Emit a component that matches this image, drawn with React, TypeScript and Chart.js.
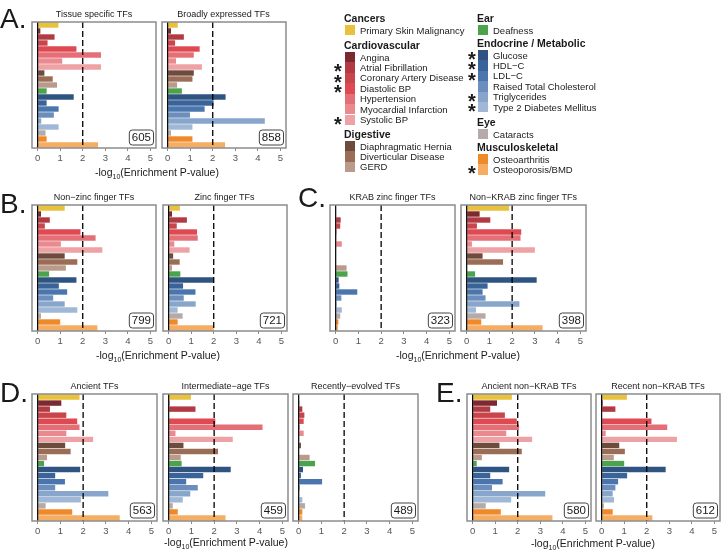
import React, { useEffect, useRef } from "react";
import { Chart, registerables } from "chart.js";

Chart.register(...registerables);

// ---------- DATA ----------
const traits = [
  "Primary Skin Malignancy",
  "Angina",
  "Atrial Fibrillation",
  "Coronary Artery Disease",
  "Diastolic BP",
  "Hypertension",
  "Myocardial Infarction",
  "Systolic BP",
  "Diaphragmatic Hernia",
  "Diverticular Disease",
  "GERD",
  "Deafness",
  "Glucose",
  "HDL\u2212C",
  "LDL\u2212C",
  "Raised Total Cholesterol",
  "Triglycerides",
  "Type 2 Diabetes Mellitus",
  "Cataracts",
  "Osteoarthritis",
  "Osteoporosis/BMD",
];

const starredTraits = [
  "Atrial Fibrillation",
  "Coronary Artery Disease",
  "Diastolic BP",
  "Systolic BP",
  "Glucose",
  "HDL\u2212C",
  "LDL\u2212C",
  "Triglycerides",
  "Type 2 Diabetes Mellitus",
  "Osteoporosis/BMD",
];

const traitGroups = ["Cancers", "Cardiovascular", "Digestive", "Ear", "Endocrine / Metabolic", "Eye", "Musculoskeletal"];
const groupMembers = [[0], [1, 2, 3, 4, 5, 6, 7], [8, 9, 10], [11], [12, 13, 14, 15, 16, 17], [18], [19, 20]];

const tissueSpecific = [0.92, 0.12, 0.75, 0.44, 1.72, 2.81, 1.09, 2.81, 0.3, 0.67, 0.86, 0.4, 1.6, 0.4, 0.93, 0.72, 0.16, 0.93, 0.35, 0.4, 2.68];
const broadlyExpressed = [0.45, 0.15, 0.72, 0.33, 1.42, 1.16, 0.37, 1.52, 1.16, 1.1, 0.42, 0.63, 2.57, 2.04, 1.64, 0.99, 4.31, 1.1, 0.15, 1.1, 2.55];
const nonZincFinger = [1.2, 0.15, 0.54, 0.32, 1.9, 2.57, 1.03, 2.87, 1.2, 1.76, 1.25, 0.51, 1.72, 0.94, 1.31, 0.69, 1.2, 1.76, 0.15, 1.0, 2.65];
const zincFinger = [0.5, 0.15, 0.81, 0.36, 1.26, 1.29, 0.25, 0.93, 0.2, 0.49, 0.15, 0.52, 2.0, 0.64, 1.19, 0.67, 1.2, 0.4, 0.62, 0.4, 2.0];
const krabZincFinger = [0.0, 0.0, 0.22, 0.2, 0.04, 0.03, 0.27, 0.02, 0.0, 0.0, 0.48, 0.52, 0.13, 0.16, 0.95, 0.25, 0.04, 0.27, 0.2, 0.12, 0.1];
const nonKrabZincFinger = [1.87, 0.57, 1.04, 0.45, 2.4, 2.37, 0.23, 3.0, 0.7, 1.6, 0.02, 0.37, 3.08, 0.92, 0.7, 0.83, 2.32, 0.41, 0.83, 0.64, 3.34];
const ancientTFs = [1.84, 1.04, 0.54, 1.26, 1.74, 1.84, 1.26, 2.44, 1.21, 1.45, 0.41, 0.28, 1.87, 0.77, 1.2, 0.77, 3.11, 1.9, 0.35, 1.52, 3.61];
const intermediateTFs = [0.98, 0.04, 1.18, 0.0, 2.05, 4.13, 0.3, 2.82, 0.65, 2.17, 0.53, 0.57, 2.73, 1.52, 0.77, 1.28, 0.95, 0.62, 0.18, 0.4, 2.5];
const recentTFs = [0.02, 0.03, 0.16, 0.25, 0.22, 0.05, 0.22, 0.03, 0.1, 0.0, 0.48, 0.72, 0.19, 0.1, 1.03, 0.05, 0.03, 0.16, 0.28, 0.16, 0.16];
const ancientNonKrab = [1.74, 1.08, 0.78, 1.43, 1.96, 2.06, 1.49, 2.64, 1.19, 2.18, 0.41, 0.18, 1.62, 0.78, 1.33, 0.86, 3.22, 1.71, 0.58, 1.25, 3.54];
const recentNonKrab = [1.12, 0.05, 0.61, 0.0, 2.21, 2.91, 0.18, 3.34, 0.78, 1.03, 0.54, 1.0, 2.84, 1.13, 0.73, 0.61, 0.49, 0.55, 0.1, 0.49, 2.25];

const tfCounts = [605, 858, 799, 721, 323, 398, 563, 459, 489, 580, 612];
const xTickValues = [0, 1, 2, 3, 4, 5];
const thresholdValue = 2;

// ---------- STYLES ----------
const traitColors = [
  "#e8c23c",
  "#7c2a30", "#b23a42", "#c8454c", "#df4a52", "#e56f76", "#ea898e", "#eea2a5",
  "#6d4b3d", "#9b6d57", "#b99a8b",
  "#4ba34b",
  "#2f5481", "#3a6499", "#4a76ad", "#6c8ebc", "#88a6cb", "#a0b8d6",
  "#b4aaa7",
  "#f0892a", "#f4ad63",
];

const FONT = "'Liberation Sans', Arial, Helvetica, sans-serif";
const TEXT = "#1a1a1a";

const panels = [
  { title: "Tissue specific TFs", values: tissueSpecific, count: tfCounts[0], box: [32, 22, 156, 148] },
  { title: "Broadly expressed TFs", values: broadlyExpressed, count: tfCounts[1], box: [161.5, 22, 285.5, 148] },
  { title: "Non\u2212zinc finger TFs", values: nonZincFinger, count: tfCounts[2], box: [32, 205, 156, 331] },
  { title: "Zinc finger TFs", values: zincFinger, count: tfCounts[3], box: [162.5, 205, 286.5, 331] },
  { title: "KRAB zinc finger TFs", values: krabZincFinger, count: tfCounts[4], box: [330, 205, 455, 331] },
  { title: "Non\u2212KRAB zinc finger TFs", values: nonKrabZincFinger, count: tfCounts[5], box: [460.5, 205, 586, 331] },
  { title: "Ancient TFs", values: ancientTFs, count: tfCounts[6], box: [32, 394, 157, 521] },
  { title: "Intermediate\u2212age TFs", values: intermediateTFs, count: tfCounts[7], box: [163, 394, 288, 521] },
  { title: "Recently\u2212evolved TFs", values: recentTFs, count: tfCounts[8], box: [293, 394, 418, 521] },
  { title: "Ancient non\u2212KRAB TFs", values: ancientNonKrab, count: tfCounts[9], box: [467, 394, 591, 521] },
  { title: "Recent non\u2212KRAB TFs", values: recentNonKrab, count: tfCounts[10], box: [596, 394, 720, 521] },
];

const axisTitles = [
  { x: 157, y: 172 },
  { x: 158, y: 355 },
  { x: 458, y: 355 },
  { x: 226, y: 542 },
  { x: 593, y: 543 },
];

const panelLetters = [
  { t: "A.", x: 0, y: 5 },
  { t: "B.", x: 0, y: 190 },
  { t: "C.", x: 298, y: 184 },
  { t: "D.", x: 0, y: 379 },
  { t: "E.", x: 436, y: 379 },
];

const PAD_X = 6;
const PAD_T = 2;
const AXIS_H = 20;

const decoPlugin = {
  id: "deco",
  afterDatasetsDraw(chart: any, _args: any, opts: any) {
    const { ctx, chartArea: ca, scales } = chart;
    const x = scales.x;
    ctx.save();
    // zero line
    const x0 = x.getPixelForValue(0);
    ctx.strokeStyle = "#000";
    ctx.lineWidth = 1.2;
    ctx.beginPath();
    ctx.moveTo(x0, ca.top);
    ctx.lineTo(x0, ca.bottom);
    ctx.stroke();
    // threshold dashed line
    const x2 = x.getPixelForValue(thresholdValue);
    ctx.setLineDash([6, 3]);
    ctx.lineWidth = 1.3;
    ctx.beginPath();
    ctx.moveTo(x2, ca.top);
    ctx.lineTo(x2, ca.bottom);
    ctx.stroke();
    ctx.setLineDash([]);
    // panel border
    ctx.strokeStyle = "#8c8c8c";
    ctx.lineWidth = 1.5;
    ctx.strokeRect(ca.left, ca.top, ca.right - ca.left, ca.bottom - ca.top);
    // count label
    const txt = String(opts.count);
    ctx.font = `11.5px ${FONT}`;
    const tw = ctx.measureText(txt).width;
    const bw = tw + 5;
    const bh = 15;
    const bx = ca.right - 2.5 - bw;
    const by = ca.bottom - 3 - bh;
    ctx.fillStyle = "#fff";
    ctx.strokeStyle = "#444";
    ctx.lineWidth = 1;
    ctx.beginPath();
    if ((ctx as any).roundRect) (ctx as any).roundRect(bx, by, bw, bh, 3);
    else ctx.rect(bx, by, bw, bh);
    ctx.fill();
    ctx.stroke();
    ctx.fillStyle = TEXT;
    ctx.textAlign = "center";
    ctx.textBaseline = "middle";
    ctx.fillText(txt, bx + bw / 2, by + bh / 2 + 0.5);
    ctx.restore();
  },
};

function Panel({ values, count, box }: { values: number[]; count: number; box: number[] }) {
  const ref = useRef<HTMLCanvasElement>(null);
  const [l, t, r, b] = box;
  const w = r - l + PAD_X * 2;
  const h = b - t + PAD_T + AXIS_H;
  useEffect(() => {
    const chart = new Chart(ref.current as HTMLCanvasElement, {
      type: "bar",
      data: {
        labels: traits,
        datasets: [
          {
            data: values,
            backgroundColor: traitColors,
            borderWidth: 0,
            barPercentage: 1,
            categoryPercentage: 0.9,
          },
        ],
      },
      options: {
        indexAxis: "y",
        animation: false,
        responsive: false,
        maintainAspectRatio: false,
        layout: { padding: { left: PAD_X, right: PAD_X, top: PAD_T, bottom: 0 } },
        plugins: {
          legend: { display: false },
          tooltip: { enabled: false },
          title: { display: false },
          deco: { count },
        } as any,
        scales: {
          x: {
            type: "linear",
            min: -0.25,
            max: 5.25,
            afterBuildTicks: (s: any) => {
              s.ticks = xTickValues.map((v) => ({ value: v }));
            },
            afterFit: (s: any) => {
              s.height = AXIS_H;
            },
            grid: { drawOnChartArea: false, drawTicks: true, tickLength: 3, color: "#8c8c8c", lineWidth: 1 },
            border: { display: false },
            ticks: { color: "#555", font: { size: 9.5, family: FONT }, padding: 2, maxRotation: 0, autoSkip: false },
          },
          y: { type: "category", display: false, offset: true },
        },
      } as any,
      plugins: [decoPlugin],
    });
    return () => chart.destroy();
  }, []);
  return (
    <canvas
      ref={ref}
      width={w}
      height={h}
      style={{ position: "absolute", left: l - PAD_X, top: t - PAD_T, width: w, height: h }}
    />
  );
}

function Txt({ x, y, children, size, bold, align, color }: any) {
  const lh = Math.round(size * 1.4);
  const style: any = {
    position: "absolute",
    top: y - lh / 2,
    height: lh,
    lineHeight: lh + "px",
    fontSize: size,
    fontFamily: FONT,
    fontWeight: bold ? "bold" : "normal",
    color: color || TEXT,
    whiteSpace: "nowrap",
  };
  style.left = x;
  if (align === "center") style.transform = "translateX(-50%)";
  return <div style={style}>{children}</div>;
}

const legendCols = [
  { headerX: 344, swatchX: 345, textX: 360, starX: 338, groups: [0, 1, 2], headerYs: [18, 45, 134] },
  { headerX: 477, swatchX: 478, textX: 493, starX: 472, groups: [3, 4, 5, 6], headerYs: [18, 43, 122, 147] },
];

function Legend() {
  const out: any[] = [];
  legendCols.forEach((col, ci) => {
    col.groups.forEach((g, gi) => {
      const hy = col.headerYs[gi];
      out.push(
        <Txt key={`h${ci}${gi}`} x={col.headerX} y={hy} size={10.5} bold>
          {traitGroups[g]}
        </Txt>
      );
      groupMembers[g].forEach((ti, k) => {
        const cy = hy + 12 + k * 10.45;
        out.push(
          <div
            key={`s${ti}`}
            style={{
              position: "absolute",
              left: col.swatchX,
              top: cy - 5.2,
              width: 9.5,
              height: 10.4,
              background: traitColors[ti],
            }}
          />
        );
        out.push(
          <Txt key={`t${ti}`} x={col.textX} y={cy} size={9.5}>
            {traits[ti]}
          </Txt>
        );
        if (starredTraits.includes(traits[ti])) {
          out.push(
            <div
              key={`st${ti}`}
              style={{
                position: "absolute",
                left: col.starX - 6,
                top: cy - 6,
                width: 12,
                height: 20,
                lineHeight: "20px",
                textAlign: "center",
                fontSize: 20,
                fontWeight: "bold",
                fontFamily: FONT,
                color: TEXT,
              }}
            >
              *
            </div>
          );
        }
      });
    });
  });
  return <>{out}</>;
}

function AxisTitle({ x, y }: { x: number; y: number }) {
  return (
    <Txt x={x} y={y} size={10.5} align="center">
      <span>-log</span>
      <span style={{ fontSize: 7, verticalAlign: "-3px" }}>10</span>
      <span>(Enrichment P-value)</span>
    </Txt>
  );
}

export default function App() {
  return (
    <div
      style={{
        position: "absolute",
        left: 0,
        top: 0,
        width: 725,
        height: 553,
        background: "#fff",
        overflow: "hidden",
      }}
    >
      {panels.map((p, i) => (
        <React.Fragment key={i}>
          <Panel values={p.values} count={p.count} box={p.box} />
          <Txt x={(p.box[0] + p.box[2]) / 2} y={p.box[1] - 8} size={9} align="center">
            {p.title}
          </Txt>
        </React.Fragment>
      ))}
      {axisTitles.map((a, i) => (
        <AxisTitle key={i} x={a.x} y={a.y} />
      ))}
      {panelLetters.map((p, i) => (
        <div
          key={i}
          style={{
            position: "absolute",
            left: p.x,
            top: p.y,
            fontSize: 28,
            lineHeight: "28px",
            fontFamily: FONT,
            color: TEXT,
          }}
        >
          {p.t}
        </div>
      ))}
      <Legend />
    </div>
  );
}
